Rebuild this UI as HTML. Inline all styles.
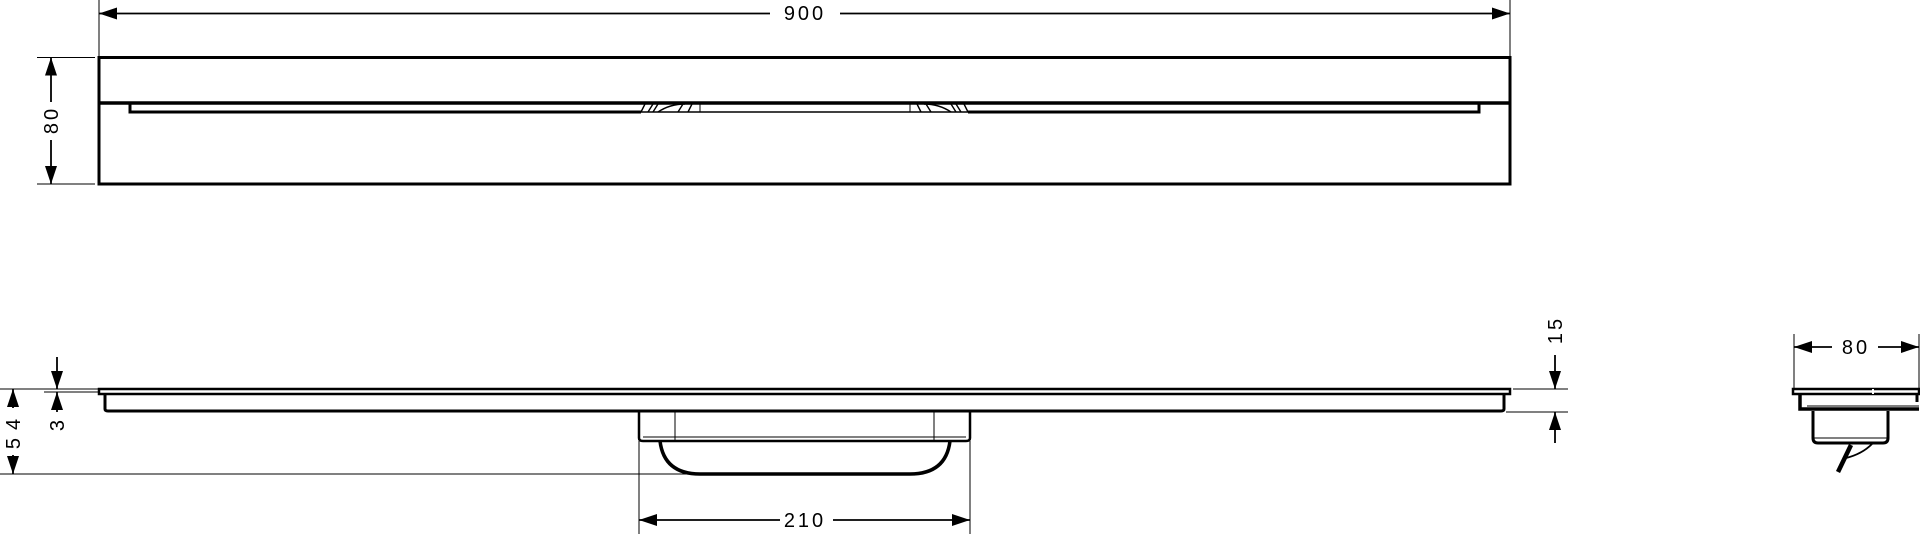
<!DOCTYPE html>
<html><head><meta charset="utf-8"><style>
html,body{margin:0;padding:0;background:#fff;width:1920px;height:534px;overflow:hidden}
svg{display:block}
text{font-family:"Liberation Sans",sans-serif;font-size:20px;fill:#000;letter-spacing:3px}
</style></head><body>
<svg width="1920" height="534" viewBox="0 0 1920 534" xmlns="http://www.w3.org/2000/svg">
<defs>
<marker id="a" viewBox="0 0 18 12" refX="18" refY="6" markerWidth="18" markerHeight="12" markerUnits="userSpaceOnUse" orient="auto-start-reverse"><path d="M0,0 L18,6 L0,12 z" fill="#000"/></marker>
</defs>
<g stroke="#000" fill="none">
<!-- top view -->
<line x1="99" y1="0" x2="99" y2="57" stroke-width="1"/>
<line x1="1510" y1="0" x2="1510" y2="57" stroke-width="1"/>
<line x1="99" y1="13.5" x2="770" y2="13.5" stroke-width="1.8" marker-start="url(#a)"/>
<line x1="840" y1="13.5" x2="1510" y2="13.5" stroke-width="1.8" marker-end="url(#a)"/>
<rect x="99" y="57.5" width="1411" height="126.5" stroke-width="3"/>
<line x1="99" y1="103" x2="1510" y2="103" stroke-width="3.5"/>
<path d="M130,103 V112 H641" stroke-width="3"/>
<path d="M968,112 H1479 V103" stroke-width="3"/>
<line x1="641" y1="112" x2="968" y2="112" stroke-width="1.5"/>
<path d="M641,112 L645,104 M648,112 L653,104 M653,112 L658,104 M658,112 Q670,104 685,104 M678,112 L683,104 M688,112 L692,104" stroke-width="1.4"/>
<line x1="700" y1="103" x2="700" y2="112" stroke-width="1"/>
<line x1="910" y1="103" x2="910" y2="112" stroke-width="1"/>
<path d="M968,112 L964,104 M961,112 L956,104 M956,112 L951,104 M951,112 Q939,104 924,104 M931,112 L926,104 M921,112 L917,104" stroke-width="1.4"/>
<line x1="37" y1="57.5" x2="95" y2="57.5" stroke-width="1"/>
<line x1="37" y1="184" x2="95" y2="184" stroke-width="1"/>
<line x1="51" y1="57.5" x2="51" y2="102" stroke-width="1.8" marker-start="url(#a)"/>
<line x1="51" y1="140" x2="51" y2="184" stroke-width="1.8" marker-end="url(#a)"/>

<!-- front view -->
<rect x="99" y="389" width="1411" height="5" stroke-width="2.5"/>
<path d="M105,394 V409 Q105,411 108,411 H1501 Q1504,411 1504,409 V394" stroke-width="3"/>
<path d="M639,411 V438 Q639,441 643,441 H966 Q970,441 970,438 V411" stroke-width="2.5"/>
<line x1="675" y1="411" x2="675" y2="441" stroke-width="1"/>
<line x1="934" y1="411" x2="934" y2="441" stroke-width="1"/>
<line x1="643" y1="437" x2="966" y2="437" stroke-width="1"/>
<path d="M660,441 Q664,474 700,474 H910 Q946,474 950,441" stroke-width="3.5"/>
<!-- left dims -->
<line x1="0" y1="389" x2="99" y2="389" stroke-width="1"/>
<line x1="44" y1="392" x2="99" y2="392" stroke-width="1"/>
<line x1="0" y1="474" x2="700" y2="474" stroke-width="1"/>
<line x1="13" y1="389" x2="13" y2="408" stroke-width="1.8" marker-start="url(#a)"/>
<line x1="13" y1="455" x2="13" y2="474" stroke-width="1.8" marker-end="url(#a)"/>
<line x1="57" y1="357" x2="57" y2="389" stroke-width="1.8" marker-end="url(#a)"/>
<line x1="57" y1="392" x2="57" y2="412" stroke-width="1.8" marker-start="url(#a)"/>
<!-- 210 -->
<line x1="639" y1="441" x2="639" y2="534" stroke-width="1"/>
<line x1="970" y1="441" x2="970" y2="534" stroke-width="1"/>
<line x1="639" y1="520" x2="780" y2="520" stroke-width="1.8" marker-start="url(#a)"/>
<line x1="833" y1="520" x2="970" y2="520" stroke-width="1.8" marker-end="url(#a)"/>
<!-- 15 -->
<line x1="1513" y1="389" x2="1568" y2="389" stroke-width="1"/>
<line x1="1506" y1="412" x2="1568" y2="412" stroke-width="1"/>
<line x1="1555" y1="355" x2="1555" y2="389" stroke-width="1.8" marker-end="url(#a)"/>
<line x1="1555" y1="412" x2="1555" y2="443" stroke-width="1.8" marker-start="url(#a)"/>

<!-- side view -->
<line x1="1794" y1="334" x2="1794" y2="389" stroke-width="1"/>
<line x1="1919" y1="334" x2="1919" y2="389" stroke-width="1"/>
<line x1="1794" y1="347" x2="1832" y2="347" stroke-width="1.8" marker-start="url(#a)"/>
<line x1="1878" y1="347" x2="1919" y2="347" stroke-width="1.8" marker-end="url(#a)"/>
<rect x="1793" y="389" width="126" height="5" stroke-width="2.5"/>
<line x1="1873" y1="389" x2="1873" y2="394" stroke="#fff" stroke-width="2"/>
<path d="M1800,394 V409 H1919" stroke-width="3.5"/>
<line x1="1807" y1="406" x2="1919" y2="406" stroke-width="1"/>
<line x1="1917" y1="394" x2="1917" y2="402" stroke-width="3"/>
<path d="M1813,411 V438 Q1813,443 1818,443 H1883 Q1888,443 1888,438 V411" stroke-width="3"/>
<line x1="1814" y1="438" x2="1887" y2="438" stroke-width="1"/>
<path d="M1851,445 L1838,472" stroke-width="4.5"/>
<path d="M1846,458 Q1862,454 1872,444" stroke-width="1.8"/>
</g>
<text x="805" y="20" text-anchor="middle">900</text>
<text x="805" y="527" text-anchor="middle">210</text>
<text x="1856" y="354" text-anchor="middle">80</text>
<text transform="translate(58,120) rotate(-90)" text-anchor="middle">80</text>
<text transform="translate(20,430) rotate(-90)" text-anchor="middle" style="letter-spacing:8px">54</text>
<text transform="translate(64,424) rotate(-90)" text-anchor="middle">3</text>
<text transform="translate(1562,330) rotate(-90)" text-anchor="middle">15</text>
</svg>
</body></html>
